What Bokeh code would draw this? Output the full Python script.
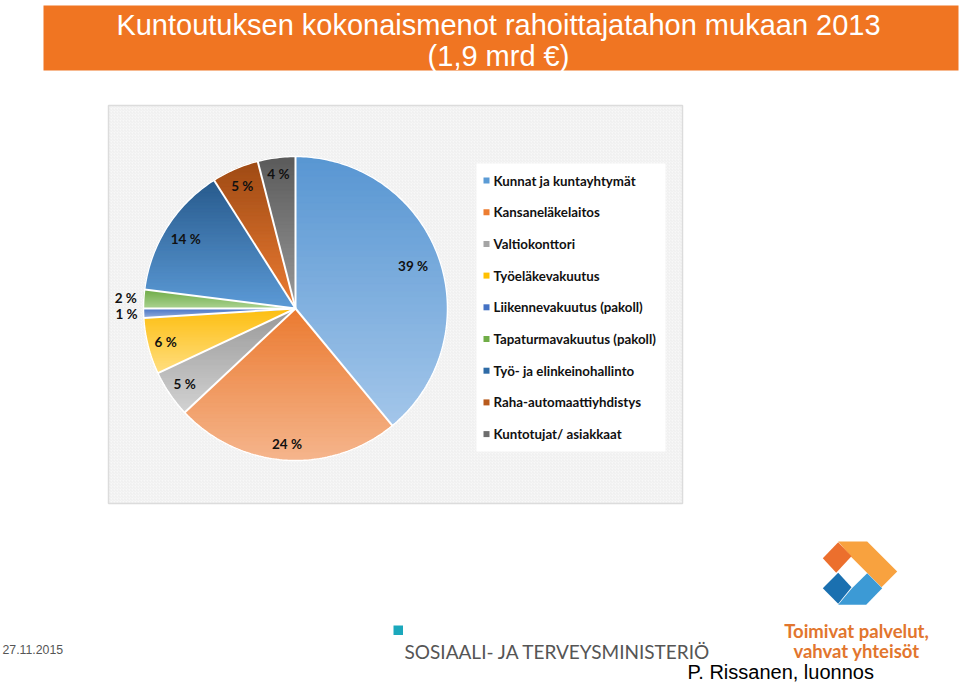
import numpy as np
from bokeh.plotting import figure
from bokeh.models import Range1d
from bokeh.core.properties import value
from bokeh.embed import file_html
from bokeh.resources import INLINE

# ---------------- data ----------------
categories = [
    "Kunnat ja kuntayhtymät",
    "Kansaneläkelaitos",
    "Valtiokonttori",
    "Työeläkevakuutus",
    "Liikennevakuutus (pakoll)",
    "Tapaturmavakuutus (pakoll)",
    "Työ- ja elinkeinohallinto",
    "Raha-automaattiyhdistys",
    "Kuntotujat/ asiakkaat",
]
shares = [39, 24, 5, 6, 1, 2, 14, 5, 4]
value_labels = ["39 %", "24 %", "5 %", "6 %", "1 %", "2 %", "14 %", "5 %", "4 %"]

title_line1 = "Kuntoutuksen kokonaismenot rahoittajatahon mukaan 2013"
title_line2 = "(1,9 mrd €)"
date_text = "27.11.2015"
ministry_text = "SOSIAALI- JA TERVEYSMINISTERIÖ"
slogan1 = "Toimivat palvelut,"
slogan2 = "vahvat yhteisöt"
author_text = "P. Rissanen, luonnos"

# ---------------- style ----------------
base_colors = ["#5B9BD5", "#ED7D31", "#A5A5A5", "#FFC000", "#4472C4",
               "#70AD47", "#2E6BA6", "#B85A1C", "#6E6E6E"]
top_colors = ["#5896D2", "#EB7A30", "#989898", "#FDBE10", "#4470C2",
              "#6DAA45", "#275A8C", "#9E4A14", "#5A5A5A"]
bottom_colors = ["#A3C6EA", "#F5B58C", "#D2D2D2", "#FFDE80", "#8FAADC",
                 "#A9D18E", "#5C9AD6", "#EC7C33", "#999999"]
label_radius = [125, 136, 134, 134, 169, 170, 130, 134, 136]

W, H = 960, 683
cx, cy, R = 295.0, 308.0, 152.0

p = figure(width=W, height=H, x_range=Range1d(0, W), y_range=Range1d(H, 0),
           output_backend="svg", toolbar_location=None, min_border=0,
           background_fill_color="white", border_fill_color="white")
p.axis.visible = False
p.grid.visible = False
p.outline_line_color = None

# header bar
p.quad(left=43, right=958, top=5, bottom=70, fill_color="#F07522", line_color=None)
p.text(x=[498], y=[24], text=[title_line1], text_color="white",
       text_font=value("Liberation Sans"), text_font_size="29px",
       text_align="center", text_baseline="middle")
p.text(x=[498], y=[55], text=[title_line2], text_color="white",
       text_font=value("Liberation Sans"), text_font_size="29px",
       text_align="center", text_baseline="middle")

# chart panel
p.quad(left=108, right=682, top=105, bottom=503, fill_color="#F8F8F8",
       line_color="#DCDCDC", line_width=1.5,
       hatch_pattern="right_diagonal_line", hatch_color="#E8E8E8",
       hatch_scale=3, hatch_weight=0.6)

# ---------------- pie with vertical gradient ----------------
def hex2rgb(h):
    h = h.lstrip("#")
    return np.array([int(h[i:i + 2], 16) for i in (0, 2, 4)], dtype=float)

def rgb2hex(c):
    return "#%02x%02x%02x" % tuple(int(round(v)) for v in c)

def clip(poly, y0, keep_ge):
    out = []
    n = len(poly)
    for i in range(n):
        P, Q = poly[i], poly[(i + 1) % n]
        inP = P[1] >= y0 if keep_ge else P[1] <= y0
        inQ = Q[1] >= y0 if keep_ge else Q[1] <= y0
        if inP:
            out.append(P)
        if inP != inQ:
            t = (y0 - P[1]) / (Q[1] - P[1])
            out.append((P[0] + t * (Q[0] - P[0]), y0))
    return out

total = float(sum(shares))
fracs = np.array(shares) / total
ends = np.cumsum(fracs)
starts = ends - fracs

xs_all, ys_all, cols_all = [], [], []
for i in range(len(shares)):
    a0, a1 = starts[i] * 2 * np.pi, ends[i] * 2 * np.pi
    n = max(4, int(400 * fracs[i]))
    ang = np.linspace(a0, a1, n)
    poly = [(cx, cy)] + [(cx + R * np.sin(a), cy - R * np.cos(a)) for a in ang]
    ys = [q[1] for q in poly]
    y_min, y_max = min(ys), max(ys)
    nb = 40
    edges = np.linspace(y_min, y_max, nb + 1)
    c0, c1 = hex2rgb(top_colors[i]), hex2rgb(bottom_colors[i])
    for b in range(nb):
        part = clip(poly, edges[b] - 0.4, True)
        part = clip(part, edges[b + 1] + 0.4, False)
        if len(part) < 3:
            continue
        t = (b + 0.5) / nb
        xs_all.append([q[0] for q in part])
        ys_all.append([q[1] for q in part])
        cols_all.append(rgb2hex(c0 + (c1 - c0) * t))

p.patches(xs=xs_all, ys=ys_all, fill_color=cols_all, line_color=cols_all,
          line_width=0.5)

# white separators
sx = [cx + R * np.sin(a * 2 * np.pi) for a in starts]
sy = [cy - R * np.cos(a * 2 * np.pi) for a in starts]
p.segment(x0=[cx] * len(sx), y0=[cy] * len(sy), x1=sx, y1=sy,
          line_color="white", line_width=2)
circ = np.linspace(0, 2 * np.pi, 361)
p.line(cx + R * np.sin(circ), cy - R * np.cos(circ), line_color="white",
       line_width=1.5)

# value labels
mids = (starts + ends) / 2 * 2 * np.pi
lx = [cx + r * np.sin(m) for r, m in zip(label_radius, mids)]
ly = [cy - r * np.cos(m) for r, m in zip(label_radius, mids)]
p.text(x=lx, y=ly, text=value_labels, text_color="#111111",
       text_font=value("Lato"), text_font_style="bold", text_font_size="13.5px",
       text_align="center", text_baseline="middle")

# legend
p.quad(left=476, right=665, top=163, bottom=451, fill_color="white", line_color=None)
leg_y = [180 + 31.7 * k for k in range(len(categories))]
p.scatter(x=[486] * len(categories), y=leg_y, marker="square", size=6,
          fill_color=base_colors, line_color=None)
p.text(x=[493] * len(categories), y=leg_y, text=categories, text_color="#111111",
       text_font=value("Lato"), text_font_style="bold", text_font_size="13.3px",
       text_align="left", text_baseline="middle")

# ---------------- footer ----------------
p.text(x=[2], y=[649], text=[date_text], text_color="#555555",
       text_font=value("Liberation Sans"), text_font_size="12.3px",
       text_align="left", text_baseline="middle")

p.quad(left=393, right=402.5, top=625, bottom=634.5, fill_color="#1BA8BC", line_color=None)
p.text(x=[404], y=[651], text=[ministry_text], text_color="#555555",
       text_font=value("Lato"), text_font_size="19px",
       text_align="left", text_baseline="middle")

# logo (decorative)
logo_xs = [
    [837.7, 866.7, 896.7, 881.0, 851.0],
    [822.3, 837.7, 851.0, 835.7],
    [837.7, 851.0, 866.7, 881.7, 865.7],
    [822.3, 837.7, 851.0, 837.7],
]
logo_ys = [
    [541.0, 541.0, 571.0, 586.7, 556.7],
    [557.7, 541.7, 555.7, 572.3],
    [604.3, 588.3, 572.7, 587.7, 604.3],
    [587.7, 572.3, 586.7, 603.3],
]
logo_cols = ["#F8A23F", "#EC6F2D", "#3C9AD5", "#1A70B0"]
p.patches(xs=logo_xs, ys=logo_ys, fill_color=logo_cols, line_color=None)

p.text(x=[856], y=[630], text=[slogan1], text_color="#E2762E",
       text_font=value("Lato"), text_font_style="bold", text_font_size="18.5px",
       text_align="center", text_baseline="middle")
p.text(x=[856], y=[650], text=[slogan2], text_color="#E2762E",
       text_font=value("Lato"), text_font_style="bold", text_font_size="18.5px",
       text_align="center", text_baseline="middle")

p.text(x=[687], y=[671], text=[author_text], text_color="#000000",
       text_font=value("Liberation Sans"), text_font_size="20px",
       text_align="left", text_baseline="middle")

open("out.html", "w").write(file_html(p, INLINE))
